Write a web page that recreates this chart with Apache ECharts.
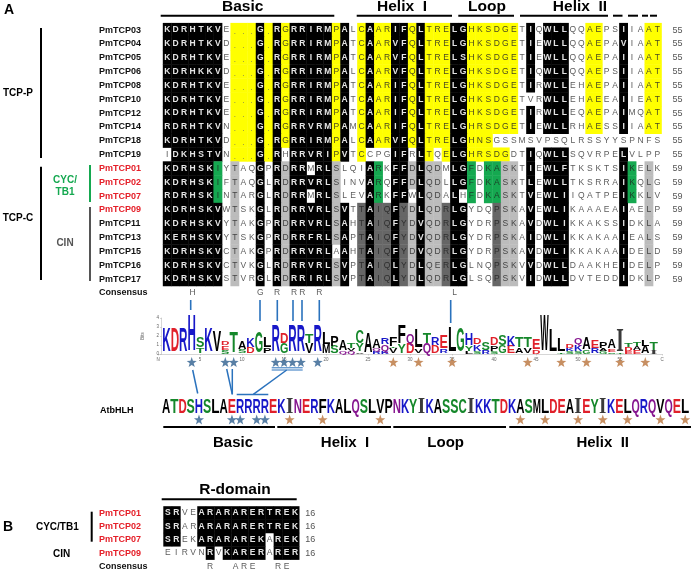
<!DOCTYPE html>
<html><head><meta charset="utf-8">
<style>html,body{margin:0;padding:0;background:#fff}#c{width:692px;height:573px}</style>
<script src="https://cdn.jsdelivr.net/npm/echarts@6/dist/echarts.min.js"></script>
</head><body><div id="c"></div>
<script>
// ---------- Panel A alignment ----------
const rowNames = ['PmTCP03','PmTCP04','PmTCP05','PmTCP06','PmTCP08','PmTCP10','PmTCP12','PmTCP14','PmTCP18','PmTCP19','PmTCP01','PmTCP02','PmTCP07','PmTCP09','PmTCP11','PmTCP13','PmTCP15','PmTCP16','PmTCP17','Consensus'];
const rowCounts = ['55','55','55','55','55','55','55','55','55','55','59','59','59','59','59','59','59','59','59',''];
const redNames = ['PmTCP01','PmTCP02','PmTCP07','PmTCP09'];
const sequences = [
 'KDRHTKVE...G.RGRRIRMPALCAARIFQLTRELGHKSDGETIQWLLQQAEPSIIAAT',
 'KDRHTKVD...G.RGRRIRMPATCAARVFQLTRELGHKSDGETIEWLLQQAEPAVIAAT',
 'KDRHTKVE...G.RGRRIRMPATCAARVFQLTRELSHKSDGETIEWLLQQAEPAIIAAT',
 'KDRHKKVD...G.RGRRIRMPALCAARVFQLTRELGHKSDGETIQWLLQQAEPSIIAAT',
 'KDRHTKVE...G.RGRRIRMPATCAARIFQLTRELGHKSDGETIRWLLEHAEPAIIAAT',
 'KDRHTKVE...G.RGRRIRMPATCAARIFQLTRELGHKSDGETVRWLLEHAEEAIIEAT',
 'KDRHTKVE...G.RGRRIRMPATCAARIFQLTRELGHKSDGETIRWLLEQAEPAIMQAT',
 'RDRHTKVN...G.RGRRVRMPAMCAARIFQLTRELGHRSDGETIEWLLRHAESSIIAAT',
 'KDRHTKVD...G.RGRRIRMPALCAARVFQLTRELGHNSGSSMSVPSQLRSSYYSPNFS',
 'IDKHSTVN...G.RHRRVRIPVTCCPGIFRLTQELGHRSDGDTIQWLLSQVRPELVLPP',
 'KDRHSKIYTAQGPRDRRMRLSLQIARKFFDLQDMLGFDKASKTIEWLFTKSKTSIKELK',
 'KDRHSKIFTAQGLRDRRVRLSINVARQFFDLQDLLGFDKASKTLEWLLTKSRRAIKQLG',
 'RDRHSKINTARGLRDRRMRLSLEVARKFFWLQDALHFDKASKTVEWLIIQATPEIKKLV',
 'KDRHSKVWTSKGLRDRRVRLSVTTAIQFYDLQDRLGYDQPSKAVEWLIKAAAEAIAELP',
 'KDRHSKVYTAKGPRDRRVRLSAHTAIQFYDVQDRLGYDRPSKAVDWLIKKAKSSIDKLA',
 'KERHSKVYTSKGPRDRRFRLSAPTAIQFYDVQDRLGYDRPSKAIDWLIKKAKAAIEALS',
 'KDRHSKVCTAKGPRDRRVRLAAHTAIQFYDVQDRLGYDRPSKAVDWLIKKAKAAIDELD',
 'KDRHSKVCTVKGLRDRRVRLSVPTAIQLYDLQERLGLNQPSKVVDWLLDAAKHEIDELP',
 'KDRHSKVSTVRGLRDRRIRLSVPTAIQLYDLQDRLGLSQPSKVIDWLLDVTEDDIDKLP',
 '...H.......G.R.RR.R...............L........................'
];
const shades = [
 'KKKKKKK.YYYKYKYKKKKKYK.YKYYKKYKYYYKKYYYYYY.K.KKK..YY..K..YY',
 'KKKKKKK.YYYKYKYKKKKKYK.YKYYKKYKYYYKKYYYYYY.K.KKK..YY..K..YY',
 'KKKKKKK.YYYKYKYKKKKKYK.YKYYKKYKYYYKKYYYYYY.K.KKK..YY..K..YY',
 'KKKKKKK.YYYKYKYKKKKKYK.YKYYKKYKYYYKKYYYYYY.K.KKK..YY..K..YY',
 'KKKKKKK.YYYKYKYKKKKKYK.YKYYKKYKYYYKKYYYYYY.K.KKK..YY..K..YY',
 'KKKKKKK.YYYKYKYKKKKKYK.YKYYKKYKYYYKKYYYYYY...KKK..YY..K..YY',
 'KKKKKKK.YYYKYKYKKKKKYK.YKYYKKYKYYYKKYYYYYY.K.KKK..YY..K..YY',
 'KKKKKKK.YYYKYKYKKKKKYK.YKYYKKYKYYYKKYYYYYY.K.KKK..YY..K..YY',
 'KKKKKKK.YYYKYKYKKKKKYK.YKYYKKYKYYYKKYYY....................',
 '.KKKKKK.YYYKYK.KKKKKYK.Y...KK.KY.YKKYYYYY..K.KKK......K....',
 'KKKKKKG.L..K.KLKK.KKL...KG.KKLKLL.KKG.GGLL.K.KKK......KG.L.',
 'KKKKKKG.L..K.KLKKKKKL...KG.KKLKLL.KKG.GGLL.K.KKK......KG.L.',
 'KKKKKKG.L..K.KLKK.KKL...KG.KK.KLL.K.G.GGLL.K.KKK......KG.L.',
 'KKKKKKK.L..K.KLKKKKKLK.DKDDKDLKLLDKK...DLL.K.KKK......K..L.',
 'KKKKKKK.L..K.KLKKKKKLK.DKDDKDLKLLDKK...DLL.K.KKK......K..L.',
 'KKKKKKK.L..K.KLKKKKKLK.DKDDKDLKLLDKK...DLL.K.KKK......K..L.',
 'KKKKKKK.L..K.KLKKKKK.K.DKDDKDLKLLDKK...DLL.K.KKK......K..L.',
 'KKKKKKK.L..K.KLKKKKKLK.DKDDKDLKLLDKK...DLL.K.KKK......K..L.',
 'KKKKKKK.L..K.KLKKKKKLK.DKDDKDLKLLDKK...DLL.K.KKK......K..L.',
 '...........................................................'
];
// ---------- Sequence logo (bottom to top, letter and bits) ----------
const logoStacks = [
 'K2.6','D2.7','R2.7','H4.0','T.6 S1.2','K2.7','V2.4','S.4 E.5 D.5','T2.3','S.5 A.8','D.7 K1.0','G2.3','P.6 L1.1','R3.0','G1.1 D1.1','R3.0','R3.0','V1.1 T1.0','R3.0',
 'M1.0 L1.3','S.8 P1.1','Q.3 A1.2','Q.3 V.3 T.6','V.2 Y.9 C1.4','A2.2','R.3 Q.3 A1.0','K.3 Q.7 R.7','V.6 T.2 F1.0','Y1.0 F2.0','D1.1 Q1.0','V.5 L2.1','Q1.1 T1.2','D.9 R.9','R.5 E1.4',
 'L2.8','G2.6','L.3 Y.6 H1.3','S.3 K.7 D.7','R.4 S.8','S.3 P.6 D.8','G.9 S1.1','E.8 K1.1','A.6 T1.2','V.6 T1.1','D.4 E1.2','W4.0','L2.5','T.2 L1.5',
 'S.3 K.3 D.5','S.3 K.7 Q.7','G.4 A1.3','R.6 E.9','G.3 A.3 P.7','S.2 E.3 A1.0','T.1 I2.4','E.3 D.4 T.5','E.4 A.4 T.4','A.8 L.7','I.4 T.8'
];
const logoBlueStars = [4,8,9,14,15,16,17,19];
const logoOrangeStars = [28,31,35,44,48,51,55,58];
// ---------- AtbHLH ----------
const atbSeq = 'ATDSHSLAERRRREKINERFKALQSLVPNKYIKASSCIKKTDKASMLDEAIEYIKELQRQVQEL';
const atbBlueStars = [5,9,10,12,13];
const atbOrangeStars = [16,20,27,44,47,51,54,57,61,64];
// ---------- Panel B ----------
const rNames = ['PmTCP01','PmTCP02','PmTCP07','PmTCP09','Consensus'];
const rCounts = ['16','16','16','16',''];
const rSeqs = ['SRVEARARARERTREK','SRARARARARERTREK','SREKARARAREKAREK','EIRVNRVKARERARER','.....R..ARE..RE.'];
const rShades = ['KK..KKKKKKKKKKKK','KK..KKKKKKKKKKKK','KK..KKKKKKKK.KKK','.....K.KKKKK.KKK','................'];

const FONT = '"Liberation Sans",Arial,sans-serif';
const BLUE_LINE = '#2a72bd', STAR_BLUE = '#2e5f8f', STAR_ORANGE = '#b9733b';
const FILL = {K:'#000000', Y:'#ffff00', G:'#15a850', L:'#bcbcbc', D:'#666666', '.':'#ffffff'};
const INK = {K:'#e4e4e4', Y:'#4a4a20', G:'#1c3c28', L:'#444444', D:'#2e2e2e', '.':'#5c5c5c'};
const LETTER_COLOR = {K:'#1717c8',R:'#1717c8',H:'#1717c8',D:'#e0202a',E:'#e0202a',S:'#15872a',T:'#15872a',G:'#15872a',Y:'#15872a',C:'#15872a',Q:'#86168f',N:'#86168f',I:'#3a3a3a'};

const measureCtx = document.createElement('canvas').getContext('2d');
function glyphElement(letter, cx, cyTop, cyBottom, boxW){
  const serif = letter === 'I';
  const fam = serif ? '"Liberation Serif"' : '"Liberation Sans"';
  const fs = 40, font = 'bold ' + fs + 'px ' + fam;
  measureCtx.font = font;
  const w = measureCtx.measureText(letter).width;
  const capH = (serif ? 0.66 : 0.72) * fs;
  return {type:'text', x:cx, y:(cyTop+cyBottom)/2,
    scaleX:(serif?0.9:1.0)*boxW/w, scaleY:Math.abs(cyBottom-cyTop)/capH,
    style:{text:letter, font:font, fill:LETTER_COLOR[letter]||'#000', align:'center', verticalAlign:'middle'}};
}
function cellData(seqs, shs){
  const out=[];
  seqs.forEach((s,r)=>{ for(let c=0;c<s.length;c++) out.push([c+1,r,s[c],shs[r][c]]); });
  return out;
}
function cellSeries(seqs, shs, xi, yi){
  const cells = cellData(seqs, shs);
  return {type:'custom', xAxisIndex:xi, yAxisIndex:yi, silent:true,
    data:cells.map(c=>[c[0],c[1]]),
    renderItem(params, api){
      const cell = cells[params.dataIndex];
      const p = api.coord([cell[0],cell[1]]), sz = api.size([1,1]);
      const kids = [];
      if(cell[3] !== '.') kids.push({type:'rect', shape:{x:p[0]-sz[0]/2-0.2,y:p[1]-sz[1]/2-0.2,width:sz[0]+0.4,height:sz[1]+0.4}, style:{fill:FILL[cell[3]]}});
      if(cell[2] !== '.' ) kids.push({type:'text', x:p[0], y:p[1], style:{text:cell[2], font:(cell[3]==='K'?'bold ':'')+'8.5px '+FONT, fill:INK[cell[3]], align:'center', verticalAlign:'middle'}});
      else if(cell[3] === 'Y') kids.push({type:'text', x:p[0], y:p[1]+2, style:{text:'.', font:'8px '+FONT, fill:'#666', align:'center', verticalAlign:'middle'}});
      return {type:'group', children:kids};
    }};
}

// logo glyphs
const logoGlyphs = [];
logoStacks.forEach((st,i)=>{ let y=0; st.split(' ').forEach(t=>{ const h=parseFloat(t.slice(1)); logoGlyphs.push([i+1,y,h,t[0]]); y+=h; }); });
const atbGlyphs = atbSeq.split('').map((l,i)=>[i+1,0,1,l]);
function glyphSeries(glyphs, xi, yi){
  return {type:'custom', xAxisIndex:xi, yAxisIndex:yi, silent:true,
    data:glyphs.map(g=>[g[0],g[1],g[2]]),
    renderItem(params, api){
      const g = glyphs[params.dataIndex];
      const b = api.coord([g[0],g[1]]), t = api.coord([g[0],g[1]+g[2]]);
      return glyphElement(g[3], b[0], t[1], b[1], api.size([1,0])[0]);
    }};
}
const STAR = 'path://M12 0 L15 8.6 L24 8.9 L16.8 14.3 L19.4 23 L12 17.9 L4.6 23 L7.2 14.3 L0 8.9 L9 8.6 Z';
function starSeries(pos, y, color, xi, yi){
  return {type:'scatter', xAxisIndex:xi, yAxisIndex:yi, silent:true, clip:false, symbol:STAR, symbolSize:10,
    itemStyle:{color:color}, data:pos.map(p=>[p,y])};
}
// annotations
const G = [];
function line(x1,y1,x2,y2,stroke,w){ G.push({type:'line', silent:true, shape:{x1,y1,x2,y2}, style:{stroke:stroke||'#000', lineWidth:w||2}}); }
function text(t,x,y,size,color,weight,align){ G.push({type:'text', silent:true, x, y, style:{text:t, font:(weight||'bold')+' '+size+'px '+FONT, fill:color||'#000', align:align||'center', verticalAlign:'middle'}}); }
// top headers
line(160.7,15.7,334.3,15.7); line(356.7,15.7,452,15.7); line(458.3,15.7,514,15.7); line(520,15.7,608,15.7);
[[613,622.5],[628,638],[642,648],[650,657]].forEach(d=>line(d[0],15.7,d[1],15.7));
text('Basic',242.7,7,15.5); text('Helix  I',402,7,15.5); text('Loop',487,7,15.5); text('Helix  II',580,7,15.5);
text('A',9,10,14);
// groups
line(41,28,41,158); line(41,166.7,41,280);
text('TCP-P',18,93,10); text('TCP-C',18,218,10);
line(90,165,90,202,'#15a850'); line(90,207,90,281,'#555');
text('CYC/',65,180,10,'#15a850'); text('TB1',65,192,10,'#15a850'); text('CIN',65,243,10,'#555');
// consensus to logo ticks
line(190.7,300,190.7,310,BLUE_LINE,1.6);
[260,277.3,293,302,319.3].forEach(x=>line(x,300,x,321,BLUE_LINE,1.6));
line(450.7,300,450.7,323,BLUE_LINE,1.6);
// logo to AtbHLH connectors
line(192.7,370,197.7,393.5,BLUE_LINE,1.5); line(226.7,369,232.3,394.3,BLUE_LINE,1.5); line(232.3,369,232.3,394.3,BLUE_LINE,1.5);
line(271.7,367.8,302.7,367.8,BLUE_LINE,1); line(271.7,370,302.7,370,BLUE_LINE,1);
line(286.7,370,253.3,394.3,BLUE_LINE,1.5); line(236.7,394.5,268.3,394.5,BLUE_LINE,1.5);
text('AtbHLH',100,411,9,'#000','bold','left');
// lower headers
line(163.3,427,275,427); line(277.3,427,391,427); line(393.3,427,506,427); line(509.3,427,691,427);
text('Basic',233,443,15); text('Helix  I',345,443,15); text('Loop',445.7,443,15); text('Helix  II',602.7,443,15);
// panel B
text('R-domain',235,489.5,15.5); line(161.7,499.3,296.7,499.3);
text('B',8,527,14); text('CYC/TB1',57.3,527,10); text('CIN',61.7,554,10); line(91.7,511.7,91.7,541.7);

const hidden = {show:false};
const nameLabels = (margin)=>({show:true, interval:0, align:'left', margin, fontFamily:FONT, fontSize:9, fontWeight:'bold',
  color:v=>redNames.includes(v)?'#e5202a':'#111'});
const countLabels = (margin)=>({show:true, interval:0, align:'left', margin, fontFamily:FONT, fontSize:9, color:'#555'});
const bare = {axisLine:hidden, axisTick:hidden, splitLine:hidden};

const option = {
  animation:false, backgroundColor:'#fff', graphic:{elements:G},
  grid:[
    {left:163, top:23.1, width:498.6, height:276.8},
    {left:158.1, top:318, width:504, height:36},
    {left:161.9, top:400, width:527.4, height:15},
    {left:163.5, top:506.4, width:135.8, height:69}
  ],
  xAxis:[
    {gridIndex:0, type:'value', min:0.5, max:59.5, show:false},
    {gridIndex:1, type:'value', min:0, max:60, interval:5, splitLine:hidden,
      axisLine:{onZero:false, lineStyle:{color:'#bbb',width:0.6}}, axisTick:{length:1.5,lineStyle:{color:'#aaa',width:0.5}},
      axisLabel:{fontSize:4.5, margin:3, color:'#666', fontFamily:FONT, formatter:v=>v===0?'N':v===60?'C':String(v)}},
    {gridIndex:2, type:'value', min:0.5, max:64.5, show:false},
    {gridIndex:3, type:'value', min:0.5, max:16.5, show:false}
  ],
  yAxis:[
    Object.assign({gridIndex:0, type:'category', inverse:true, data:rowNames, axisLabel:nameLabels(64)},bare),
    Object.assign({gridIndex:0, type:'category', inverse:true, position:'right', data:rowCounts, axisLabel:countLabels(11)},bare),
    {gridIndex:1, type:'value', min:0, max:4, interval:1, offset:-3.5, splitLine:hidden,
      name:'Bits', nameLocation:'middle', nameRotate:90, nameGap:6, nameTextStyle:{fontSize:4.5,color:'#666',fontFamily:FONT},
      axisLine:{show:true,lineStyle:{color:'#bbb',width:0.6}}, axisTick:{length:1.5,lineStyle:{color:'#aaa',width:0.5}},
      axisLabel:{fontSize:4.5, margin:2.5, color:'#666', fontFamily:FONT}},
    {gridIndex:2, type:'value', min:0, max:1, show:false},
    Object.assign({gridIndex:3, type:'category', inverse:true, data:rNames, axisLabel:nameLabels(64.5)},bare),
    Object.assign({gridIndex:3, type:'category', inverse:true, position:'right', data:rCounts, axisLabel:countLabels(6)},bare)
  ],
  series:[
    cellSeries(sequences, shades, 0, 0),
    glyphSeries(logoGlyphs, 1, 2),
    starSeries(logoBlueStars, -0.9, STAR_BLUE, 1, 2),
    starSeries(logoOrangeStars, -0.9, STAR_ORANGE, 1, 2),
    glyphSeries(atbGlyphs, 2, 3),
    starSeries(atbBlueStars, -0.3, STAR_BLUE, 2, 3),
    starSeries(atbOrangeStars, -0.3, STAR_ORANGE, 2, 3),
    cellSeries(rSeqs, rShades, 3, 4)
  ]
};
echarts.init(document.getElementById('c'),null,{renderer:'canvas'}).setOption(option);
</script></body></html>
